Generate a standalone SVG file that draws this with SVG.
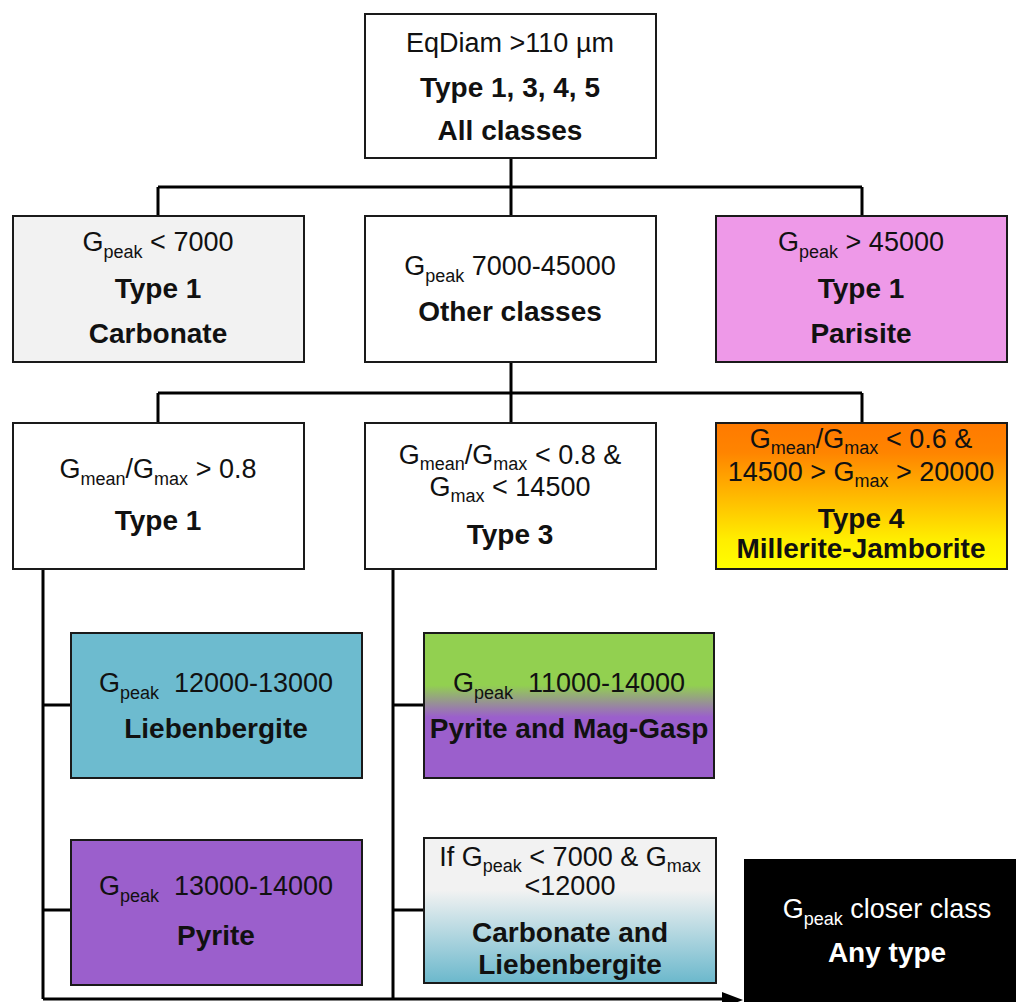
<svg xmlns="http://www.w3.org/2000/svg" width="1016" height="1002" viewBox="0 0 1016 1002">
<defs>
<style>
text{font-family:"Liberation Sans",Arial,sans-serif;fill:#111;text-anchor:middle}
.r{font-size:27px}
.b{font-size:28px;font-weight:bold}
.s{font-size:18px}
.box{stroke:#1a1a1a;stroke-width:2}
.c{stroke:#000;stroke-width:3;fill:none}
</style>
<linearGradient id="gOr" x1="0" y1="0" x2="0" y2="1">
<stop offset="0" stop-color="#FF7A00"/>
<stop offset="0.2" stop-color="#FF8400"/>
<stop offset="0.8" stop-color="#FFEE00"/>
<stop offset="1" stop-color="#FFFF00"/>
</linearGradient>
<linearGradient id="gGP" x1="0" y1="0" x2="0" y2="1">
<stop offset="0" stop-color="#92D050"/>
<stop offset="0.36" stop-color="#92D050"/>
<stop offset="0.58" stop-color="#9B5FCC"/>
<stop offset="1" stop-color="#9B5FCC"/>
</linearGradient>
<linearGradient id="gGB" x1="0" y1="0" x2="0" y2="1">
<stop offset="0" stop-color="#F2F2F2"/>
<stop offset="0.36" stop-color="#F2F2F2"/>
<stop offset="1" stop-color="#6BB8CC"/>
</linearGradient>
</defs>
<rect width="1016" height="1002" fill="#fff"/>

<g id="connectors">
<path class="c" d="M511 158V187M158 187H862M158 187V216M511 187V216M862 187V216"/>
<path class="c" d="M511 362V393M158 393H862M158 393V423M511 393V423M862 393V423"/>
<path class="c" d="M43 569V999M43 705H71M43 910H71"/>
<path class="c" d="M393 569V999M393 705H424M393 910H424"/>
<path class="c" d="M43 999H728"/>
<polygon points="722,992 743,1000 722,1008" fill="#000"/>
</g>

<g id="n-root">
<rect class="box" x="365" y="14" width="291" height="144" fill="#fff"/>
<text class="r" x="510" y="52">EqDiam &gt;110 µm</text>
<text class="b" x="510" y="97">Type 1, 3, 4, 5</text>
<text class="b" x="510" y="140">All classes</text>
</g>

<g id="n-carbonate">
<rect class="box" x="13" y="216" width="291" height="146" fill="#F2F2F2"/>
<text class="r" x="158" y="251">G<tspan class="s" dy="7">peak</tspan><tspan dy="-7"> &lt; 7000</tspan></text>
<text class="b" x="158" y="298">Type 1</text>
<text class="b" x="158" y="343">Carbonate</text>
</g>

<g id="n-other">
<rect class="box" x="365" y="216" width="291" height="146" fill="#fff"/>
<text class="r" x="510" y="275">G<tspan class="s" dy="7">peak</tspan><tspan dy="-7"> 7000-45000</tspan></text>
<text class="b" x="510" y="321">Other classes</text>
</g>

<g id="n-parisite">
<rect class="box" x="716" y="216" width="291" height="146" fill="#EE99E8"/>
<text class="r" x="861" y="251">G<tspan class="s" dy="7">peak</tspan><tspan dy="-7"> &gt; 45000</tspan></text>
<text class="b" x="861" y="298">Type 1</text>
<text class="b" x="861" y="343">Parisite</text>
</g>

<g id="n-type1">
<rect class="box" x="13" y="423" width="291" height="146" fill="#fff"/>
<text class="r" x="158" y="478">G<tspan class="s" dy="7">mean</tspan><tspan dy="-7">/G</tspan><tspan class="s" dy="7">max</tspan><tspan dy="-7"> &gt; 0.8</tspan></text>
<text class="b" x="158" y="530">Type 1</text>
</g>

<g id="n-type3">
<rect class="box" x="365" y="423" width="291" height="146" fill="#fff"/>
<text class="r" x="510" y="464">G<tspan class="s" dy="6">mean</tspan><tspan dy="-6">/G</tspan><tspan class="s" dy="6">max</tspan><tspan dy="-6"> &lt; 0.8 &amp;</tspan></text>
<text class="r" x="510" y="496">G<tspan class="s" dy="6">max</tspan><tspan dy="-6"> &lt; 14500</tspan></text>
<text class="b" x="510" y="544">Type 3</text>
</g>

<g id="n-type4">
<rect class="box" x="716" y="423" width="291" height="146" fill="url(#gOr)"/>
<text class="r" x="861" y="448">G<tspan class="s" dy="6">mean</tspan><tspan dy="-6">/G</tspan><tspan class="s" dy="6">max</tspan><tspan dy="-6"> &lt; 0.6 &amp;</tspan></text>
<text class="r" x="861" y="481">14500 &gt; G<tspan class="s" dy="6">max</tspan><tspan dy="-6"> &gt; 20000</tspan></text>
<text class="b" x="861" y="528">Type 4</text>
<text class="b" x="861" y="558">Millerite-Jamborite</text>
</g>

<g id="n-liebenbergite">
<rect class="box" x="71" y="633" width="291" height="145" fill="#6DBBCF"/>
<text class="r" x="216" y="692">G<tspan class="s" dy="7">peak</tspan><tspan dy="-7" xml:space="preserve">  12000-13000</tspan></text>
<text class="b" x="216" y="738">Liebenbergite</text>
</g>

<g id="n-pyrite-mag">
<rect class="box" x="424" y="633" width="290" height="145" fill="url(#gGP)"/>
<text class="r" x="569" y="692">G<tspan class="s" dy="7">peak</tspan><tspan dy="-7" xml:space="preserve">  11000-14000</tspan></text>
<text class="b" x="569" y="738">Pyrite and Mag-Gasp</text>
</g>

<g id="n-pyrite">
<rect class="box" x="71" y="840" width="291" height="145" fill="#9B5FCC"/>
<text class="r" x="216" y="895">G<tspan class="s" dy="7">peak</tspan><tspan dy="-7" xml:space="preserve">  13000-14000</tspan></text>
<text class="b" x="216" y="945">Pyrite</text>
</g>

<g id="n-carb-lieb">
<rect class="box" x="424" y="838" width="292" height="145" fill="url(#gGB)"/>
<text class="r" x="570" y="866">If G<tspan class="s" dy="6">peak</tspan><tspan dy="-6"> &lt; 7000 &amp; G</tspan><tspan class="s" dy="6">max</tspan></text>
<text class="r" x="570" y="895">&lt;12000</text>
<text class="b" x="570" y="942">Carbonate and</text>
<text class="b" x="570" y="974">Liebenbergite</text>
</g>

<g id="n-any">
<rect x="744" y="859" width="280" height="150" fill="#000"/>
<text class="r" x="887" y="918" style="fill:#fff">G<tspan class="s" dy="7">peak</tspan><tspan dy="-7"> closer class</tspan></text>
<text class="b" x="887" y="962" style="fill:#fff">Any type</text>
</g>
</svg>
